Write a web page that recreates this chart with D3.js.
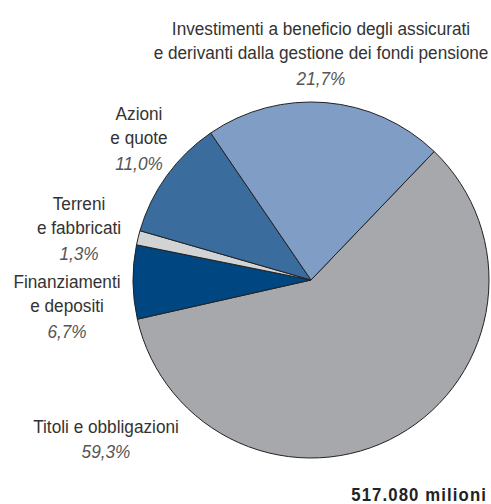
<!DOCTYPE html>
<html>
<head>
<meta charset="utf-8">
<script src="https://cdn.jsdelivr.net/npm/d3@7"></script>
<style>
  body { margin: 0; background: #fff; }
  svg text { font-family: "Liberation Sans", Arial, sans-serif; }
</style>
</head>
<body>
<svg width="491" height="504"></svg>
<script>
// DATA
var categories = [
  "Titoli e obbligazioni",
  "Finanziamenti e depositi",
  "Terreni e fabbricati",
  "Azioni e quote",
  "Investimenti a beneficio degli assicurati e derivanti dalla gestione dei fondi pensione"
];
var values = [59.3, 6.7, 1.3, 11.0, 21.7];
var pctLabels = ["59,3%", "6,7%", "1,3%", "11,0%", "21,7%"];
var labelLines = [
  ["Titoli e obbligazioni"],
  ["Finanziamenti", "e depositi"],
  ["Terreni", "e fabbricati"],
  ["Azioni", "e quote"],
  ["Investimenti a beneficio degli assicurati", "e derivanti dalla gestione dei fondi pensione"]
];
var total = "517.080 milioni";

// LAYOUT
var colors = ["#a7a8ab", "#004680", "#d1d3d5", "#3a6c9e", "#809dc6"];
// x center, baseline of first line
var labelPos = [[106, 433], [67, 288], [79, 210], [139, 120], [321, 35]];
var lineH = 24.5;
var sx = 0.93; // narrow the font

var svg = d3.select("svg");
var cx = 311, cy = 280, r = 178;
var start = 43.8 * Math.PI / 180;

var pie = d3.pie()
  .sort(null)
  .startAngle(start)
  .endAngle(start + 2 * Math.PI)
  .value(function(d) { return d; });

var arc = d3.arc().innerRadius(0).outerRadius(r);

var g = svg.append("g").attr("transform", "translate(" + cx + "," + cy + ")");
g.selectAll("path")
  .data(pie(values))
  .enter().append("path")
  .attr("d", arc)
  .attr("fill", function(d, i) { return colors[i]; })
  .attr("stroke", "#222")
  .attr("stroke-width", 1)
  .attr("stroke-linejoin", "round");

// LABELS
var lab = svg.selectAll(".lab")
  .data(categories)
  .enter().append("g")
  .attr("class", "lab")
  .attr("transform", function(d, i) {
    return "translate(" + labelPos[i] + ") scale(" + sx + ",1)"; })
  .append("text")
  .attr("text-anchor", "middle")
  .attr("font-size", 18.5);

lab.each(function(d, i) {
  var t = d3.select(this);
  labelLines[i].forEach(function(line, j) {
    t.append("tspan")
      .attr("x", 0)
      .attr("dy", j == 0 ? 0 : lineH)
      .attr("fill", "#333")
      .text(line);
  });
  t.append("tspan")
    .attr("x", 0)
    .attr("dy", lineH + 1)
    .attr("fill", "#555")
    .attr("font-style", "italic")
    .text(pctLabels[i]);
});

svg.append("g")
  .attr("transform", "translate(487,501) scale(" + sx + ",1)")
  .append("text")
  .attr("text-anchor", "end")
  .attr("font-size", 18)
  .attr("font-weight", "bold")
  .attr("letter-spacing", 1.2)
  .attr("fill", "#222")
  .text(total);
</script>
</body>
</html>
